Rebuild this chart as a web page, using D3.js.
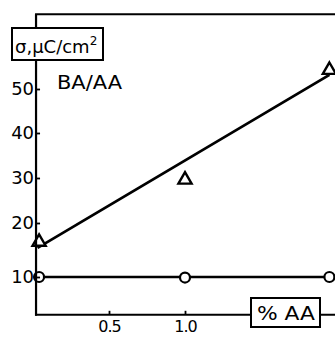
<!DOCTYPE html>
<html><head><meta charset="utf-8">
<script src="https://cdn.jsdelivr.net/npm/d3@7"></script>
<style>
html,body{margin:0;padding:0;background:#fff;}
svg{display:block;}
text{font-family:"DejaVu Sans",sans-serif;fill:#000;}
</style></head>
<body>
<script>
// data
const aaPercent = [0.04, 1.0, 1.95];
const triangleCharge = [16.5, 29.6, 54.3];
const circleCharge = [10, 9.9, 10];
const fitX = [0.03, 1.95];
const fitY = [15.4, 53.2];
const flatX = [0.03, 1.95];
const flatY = [10, 10];
const yTicks = [10, 20, 30, 40, 50];
const xTicks = [0.5, 1.0];
const yRange = [3, 67];
const xOrigin = 0.02;

const W = 335, H = 339;
const svg = d3.select("body").append("svg").attr("width", W).attr("height", H);

const x = d3.scaleLinear().domain([0, 2]).range([33, 337]);
const y = d3.scaleLinear().domain(yTicks).range([277, 223, 178, 133, 89]);

const x0 = x(xOrigin);
const yBottom = y(yRange[0]);
const yTop = y(yRange[1]);

// lines
const line = d3.line().x(d => x(d[0])).y(d => y(d[1]));
svg.append("path").attr("d", line(d3.zip(fitX, fitY)))
  .attr("fill", "none").attr("stroke", "#000").attr("stroke-width", 2.8);
svg.append("path").attr("d", line(d3.zip(flatX, flatY)))
  .attr("fill", "none").attr("stroke", "#000").attr("stroke-width", 2.6);

// points
const tri = d3.symbol().type(d3.symbolTriangle).size(75);
svg.selectAll(".tri").data(d3.zip(aaPercent, triangleCharge)).join("path")
  .attr("transform", d => `translate(${x(d[0])},${y(d[1])})`)
  .attr("d", tri).attr("fill", "#fff").attr("stroke", "#000").attr("stroke-width", 2.4);
svg.selectAll(".circ").data(d3.zip(aaPercent, circleCharge)).join("circle")
  .attr("cx", d => x(d[0])).attr("cy", d => y(d[1])).attr("r", 5)
  .attr("fill", "#fff").attr("stroke", "#000").attr("stroke-width", 2.2);

// frame: y axis line, top line, x axis line
svg.append("line").attr("x1", x0).attr("x2", x0).attr("y1", yTop).attr("y2", yBottom + 1)
  .attr("stroke", "#000").attr("stroke-width", 2.2);
svg.append("line").attr("x1", x0 - 1).attr("x2", W).attr("y1", yTop).attr("y2", yTop)
  .attr("stroke", "#000").attr("stroke-width", 2);
svg.append("line").attr("x1", x0 - 1).attr("x2", W).attr("y1", yBottom).attr("y2", yBottom)
  .attr("stroke", "#000").attr("stroke-width", 2);

// y axis ticks
const yAxis = d3.axisLeft(y).tickValues(yTicks).tickSizeInner(-4).tickSizeOuter(0).tickPadding(2);
const gy = svg.append("g").attr("transform", `translate(${x0},0)`).call(yAxis);
gy.select(".domain").remove();
gy.selectAll(".tick line").attr("stroke", "#000").attr("stroke-width", 1.8);
gy.selectAll(".tick text").attr("font-size", 18).attr("font-family", "DejaVu Sans").attr("fill", "#000");

// x axis ticks
const xAxis = d3.axisBottom(x).tickValues(xTicks).tickFormat(d3.format(".1f")).tickSizeInner(-4).tickSizeOuter(0).tickPadding(6);
const gx = svg.append("g").attr("transform", `translate(0,${yBottom})`).call(xAxis);
gx.select(".domain").remove();
gx.selectAll(".tick line").attr("stroke", "#000").attr("stroke-width", 1.8);
gx.selectAll(".tick text").attr("font-size", 16).attr("font-family", "DejaVu Sans").attr("fill", "#000").attr("letter-spacing", -1);

// y label box
svg.append("rect").attr("x", 12).attr("y", 28).attr("width", 91).attr("height", 32)
  .attr("fill", "#fff").attr("stroke", "#000").attr("stroke-width", 2);
const yl = svg.append("text").attr("x", 15).attr("y", 53).attr("font-size", 18);
yl.append("tspan").text("σ,μC/cm");
yl.append("tspan").attr("font-size", 12).attr("dy", -8).text("2");

// x label box
svg.append("rect").attr("x", 251).attr("y", 298).attr("width", 69).attr("height", 29)
  .attr("fill", "#fff").attr("stroke", "#000").attr("stroke-width", 2);
svg.append("text").attr("x", 257).attr("y", 320).attr("font-size", 20)
  .attr("textLength", 58).attr("lengthAdjust", "spacingAndGlyphs").text("% AA");

// series label
svg.append("text").attr("x", 57).attr("y", 89).attr("font-size", 19)
  .attr("textLength", 65).attr("lengthAdjust", "spacingAndGlyphs").text("BA/AA");
</script>
</body></html>
